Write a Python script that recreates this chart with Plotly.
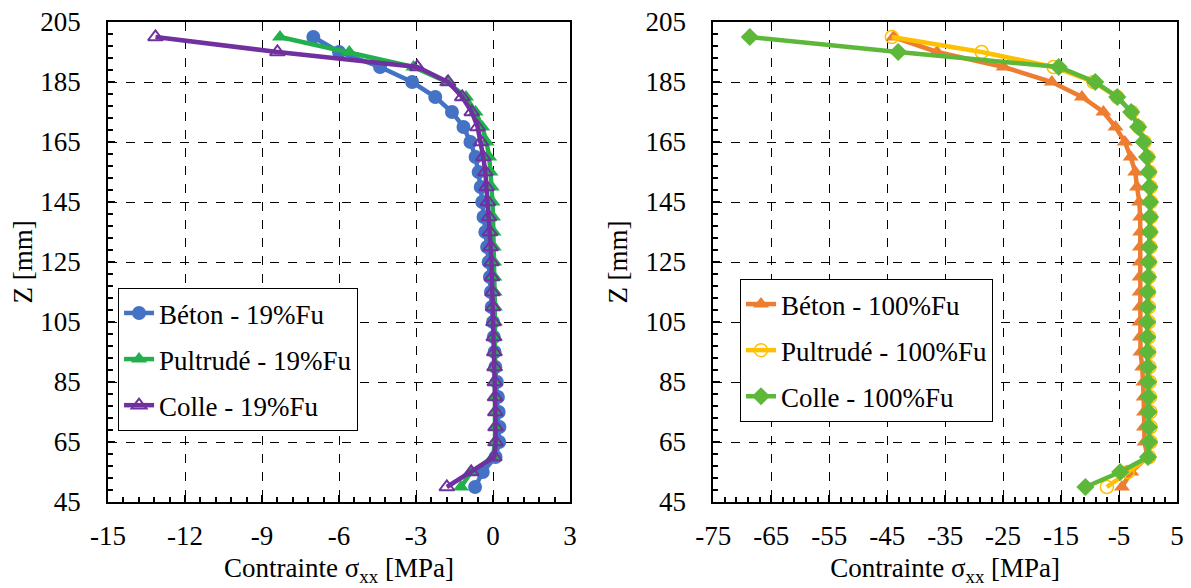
import plotly.graph_objects as go

# Heights Z [mm]
z = [200, 195, 190, 185, 180, 175, 170, 165, 160, 155, 150, 145, 140, 135, 130, 125,
     120, 115, 110, 105, 100, 95, 90, 85, 80, 75, 70, 65, 60, 55, 50]

# Left panel (19%Fu)
beton_19 = [-7.0, -6.0, -4.4, -3.15, -2.25, -1.6, -1.15, -0.88, -0.68, -0.56, -0.48, -0.42,
            -0.37, -0.30, -0.23, -0.17, -0.12, -0.08, -0.05, 0.0, 0.03, 0.06, 0.09, 0.15,
            0.19, 0.22, 0.25, 0.24, 0.10, -0.40, -0.70]
pultrude_19 = [-8.3, -5.6, -3.1, -1.8, -1.05, -0.68, -0.42, -0.25, -0.15, -0.10, -0.05, -0.02,
               0.0, 0.02, 0.03, 0.04, 0.05, 0.06, 0.07, 0.07, 0.08, 0.08, 0.09, 0.09,
               0.10, 0.10, 0.10, 0.08, 0.0, -0.85, -1.25]
colle_19 = [-13.15, -8.4, -2.95, -1.75, -1.2, -0.83, -0.6, -0.47, -0.38, -0.30, -0.25, -0.20,
            -0.16, -0.12, -0.09, -0.06, -0.04, -0.02, 0.0, 0.02, 0.03, 0.05, 0.06, 0.07,
            0.08, 0.09, 0.10, 0.10, 0.05, -0.85, -1.8]

# Right panel (100%Fu)
beton_100 = [-43.9, -36.4, -24.9, -16.6, -11.4, -7.7, -5.6, -4.0, -3.0, -2.2, -1.9, -1.5,
             -1.35, -1.35, -1.4, -1.4, -1.45, -1.45, -1.45, -1.45, -1.4, -1.3, -1.0, -0.8,
             -0.75, -0.7, -0.7, -0.6, -0.1, -2.9, -4.5]
pultrude_100 = [-44.2, -28.7, -16.3, -9.4, -5.3, -2.8, -1.6, -0.6, 0.0, 0.3, 0.45, 0.5,
                0.5, 0.45, 0.4, 0.3, 0.2, 0.15, 0.15, 0.15, 0.15, 0.2, 0.25, 0.3,
                0.35, 0.4, 0.45, 0.45, 0.2, -3.5, -7.1]
colle_100 = [-68.7, -43.1, -15.4, -9.1, -5.3, -2.9, -1.7, -0.76, -0.17, 0.1, 0.25, 0.35,
             0.35, 0.3, 0.2, 0.1, 0.0, -0.1, -0.15, -0.15, -0.15, -0.1, -0.05, 0.0,
             0.05, 0.1, 0.15, 0.2, 0.0, -4.8, -10.8]

x_ticks_left = [-15, -12, -9, -6, -3, 0, 3]
x_labels_left = ["-15", "-12", "-9", "-6", "-3", "0", "3"]
x_ticks_right = [-75, -65, -55, -45, -35, -25, -15, -5, 5]
x_labels_right = ["-75", "-65", "-55", "-45", "-35", "-25", "-15", "-5", "5"]
y_ticks = [45, 65, 85, 105, 125, 145, 165, 185, 205]

FONT = "Liberation Serif, DejaVu Serif, Noto Serif, serif"

fig = go.Figure()

def add(x, name, color, symbol, size, xa, ya, leg, group, mline=0):
    fig.add_trace(go.Scatter(
        x=x, y=z, name=name, mode="lines+markers",
        line=dict(color=color, width=4.5),
        marker=dict(symbol=symbol, size=size, color=color,
                    line=dict(color=color, width=mline)),
        xaxis=xa, yaxis=ya, legend=leg, legendgroup=group,
    ))

add(beton_19, "Béton - 19%Fu", "#4472C4", "circle", 14, "x", "y", "legend", "a")
add(pultrude_19, "Pultrudé - 19%Fu", "#21B04B", "triangle-up", 14, "x", "y", "legend", "b")
add(colle_19, "Colle - 19%Fu", "#7030A0", "triangle-up-open", 13, "x", "y", "legend", "c", 2)

add(beton_100, "Béton - 100%Fu", "#ED7D31", "triangle-up", 14, "x2", "y2", "legend2", "d")
add(pultrude_100, "Pultrudé - 100%Fu", "#FFC000", "circle-open", 13, "x2", "y2", "legend2", "e", 1.5)
add(colle_100, "Colle - 100%Fu", "#5DB83A", "diamond", 14, "x2", "y2", "legend2", "f")

axis_common = dict(
    showline=True, linecolor="black", linewidth=1.5, mirror=True,
    ticks="inside", ticklen=7, tickwidth=1.5, tickcolor="black",
    showgrid=True, gridcolor="black", gridwidth=1, griddash="dash",
    zeroline=False, automargin=False, ticklabeloverflow="allow",
    tickfont=dict(family=FONT, size=27, color="black"),
)

xtitle = dict(text="Contrainte σ<sub>xx</sub> [MPa]", font=dict(family=FONT, size=27, color="black"), standoff=8)
ytitle = dict(text="Z [mm]", font=dict(family=FONT, size=27, color="black"), standoff=10)

# page body has an 8px margin: figure shifted accordingly
fig.update_layout(
    width=1183, height=580,
    margin=dict(l=100, r=14, t=14, b=86),
    paper_bgcolor="white", plot_bgcolor="white",
    font=dict(family=FONT, color="black"),
    xaxis=dict(domain=[0, 0.4322], range=[-15, 3], tickvals=x_ticks_left, ticktext=x_labels_left,
               minor=dict(dtick=0.6, tick0=-15, ticks="inside", ticklen=5, tickcolor="black", showgrid=False),
               anchor="y", title=xtitle, ticklabelstandoff=9, **axis_common),
    yaxis=dict(domain=[0, 1], range=[45, 205], tickvals=y_ticks,
               minor=dict(dtick=4, tick0=45, ticks="inside", ticklen=5, tickcolor="black", showgrid=False),
               anchor="x", title=ytitle, ticklabelstandoff=20, **axis_common),
    xaxis2=dict(domain=[0.5662, 1], range=[-75, 5], tickvals=x_ticks_right, ticktext=x_labels_right,
                minor=dict(dtick=2, tick0=-75, ticks="inside", ticklen=5, tickcolor="black", showgrid=False),
                anchor="y2", title=xtitle, ticklabelstandoff=9, **axis_common),
    yaxis2=dict(domain=[0, 1], range=[45, 205], tickvals=y_ticks,
                minor=dict(dtick=4, tick0=45, ticks="inside", ticklen=5, tickcolor="black", showgrid=False),
                anchor="x2", title=ytitle, ticklabelstandoff=20, **axis_common),
    legend=dict(x=0.0094, y=0.446, xanchor="left", yanchor="top",
                bgcolor="white", bordercolor="black", borderwidth=1,
                font=dict(family=FONT, size=27, color="black"),
                tracegroupgap=8, itemwidth=30),
    legend2=dict(x=0.5912, y=0.4646, xanchor="left", yanchor="top",
                 bgcolor="white", bordercolor="black", borderwidth=1,
                 font=dict(family=FONT, size=27, color="black"),
                 tracegroupgap=8, itemwidth=30),
    showlegend=True,
)

fig.write_html("out.html")
